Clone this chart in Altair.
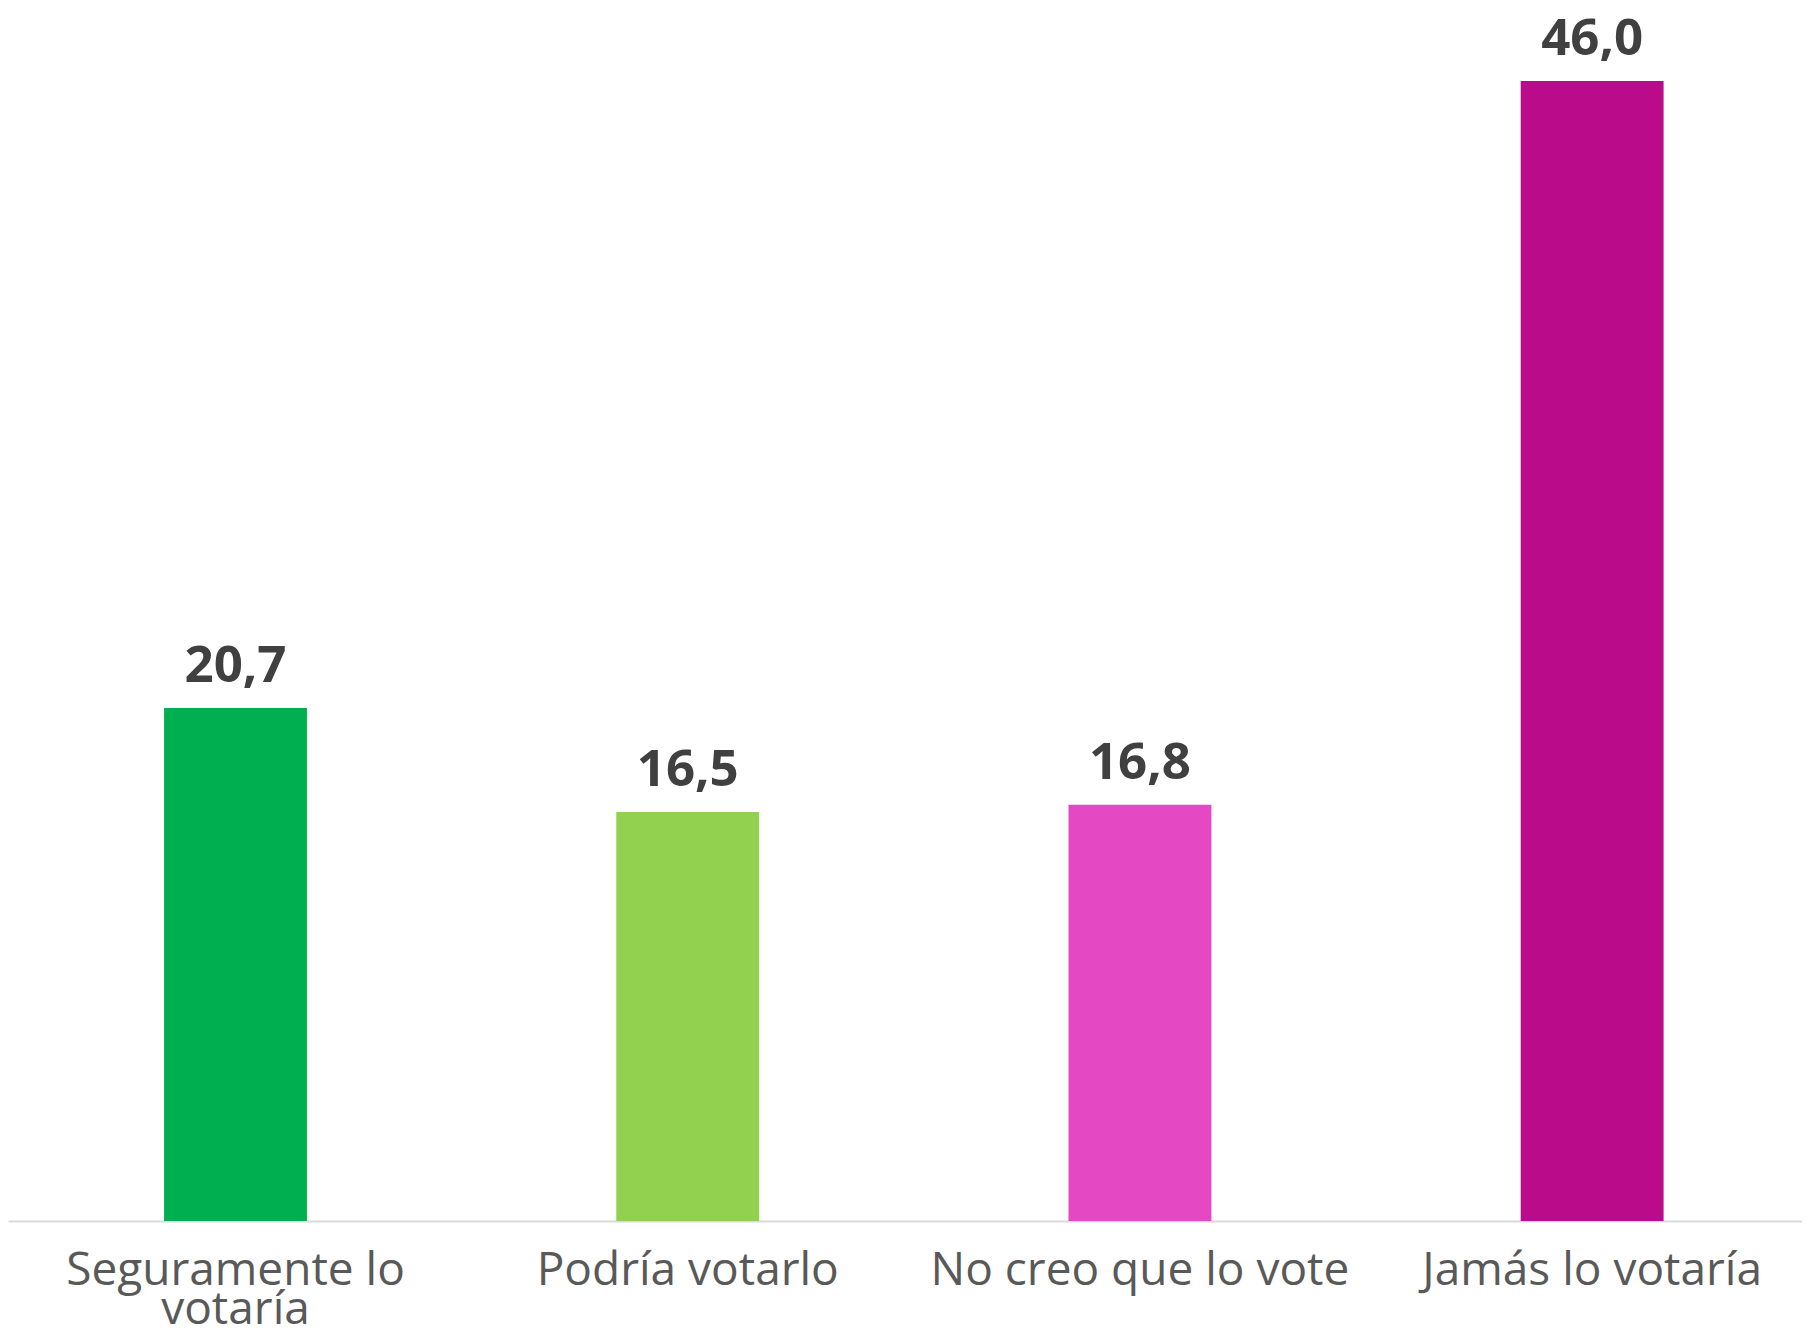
import altair as alt
import pandas as pd

categories = ["Seguramente lo votaría", "Podría votarlo", "No creo que lo vote", "Jamás lo votaría"]
values = [20.7, 16.5, 16.8, 46.0]
labels = ["20,7", "16,5", "16,8", "46,0"]
colors = ["#00B050", "#92D050", "#E448C3", "#BA0C8A"]

df = pd.DataFrame({"cat": categories, "val": values, "lab": labels})

x = alt.X(
    "cat:N",
    sort=categories,
    scale=alt.Scale(paddingInner=0.684, paddingOuter=0.3256, align=0.53),
    axis=alt.Axis(
        title=None,
        labelAngle=0,
        ticks=False,
        grid=False,
        domainColor="#D9D9D9",
        domainWidth=2,
        labelFont="Open Sans",
        labelFontSize=46,
        labelColor="#595959",
        labelPadding=27,
        labelLineHeight=39,
        labelLimit=600,
        labelExpr="datum.label == 'Seguramente lo votaría' ? ['Seguramente lo', 'votaría'] : datum.label",
    ),
)
y = alt.Y("val:Q", scale=alt.Scale(domain=[0, 48.95], nice=False, zero=True), axis=None)

bars = alt.Chart(df).mark_bar().encode(
    x=x,
    y=y,
    color=alt.Color("cat:N", scale=alt.Scale(domain=categories, range=colors), legend=None),
)

text = alt.Chart(df).mark_text(
    font="Open Sans", fontWeight="bold", fontSize=51, color="#404040", dy=-26, baseline="alphabetic"
).encode(x=x, y=y, text="lab:N")

chart = (
    alt.layer(bars, text, view=alt.ViewBackground(stroke="transparent", strokeWidth=0))
    .properties(width=1794, height=1213, padding={"left": 0, "top": 0, "right": 0, "bottom": 108}, autosize="none")
    .configure_view(strokeWidth=0, stroke="transparent")
    .configure(background="white")
)

chart.save("out.html", embed_options={"renderer": "svg", "actions": False})
